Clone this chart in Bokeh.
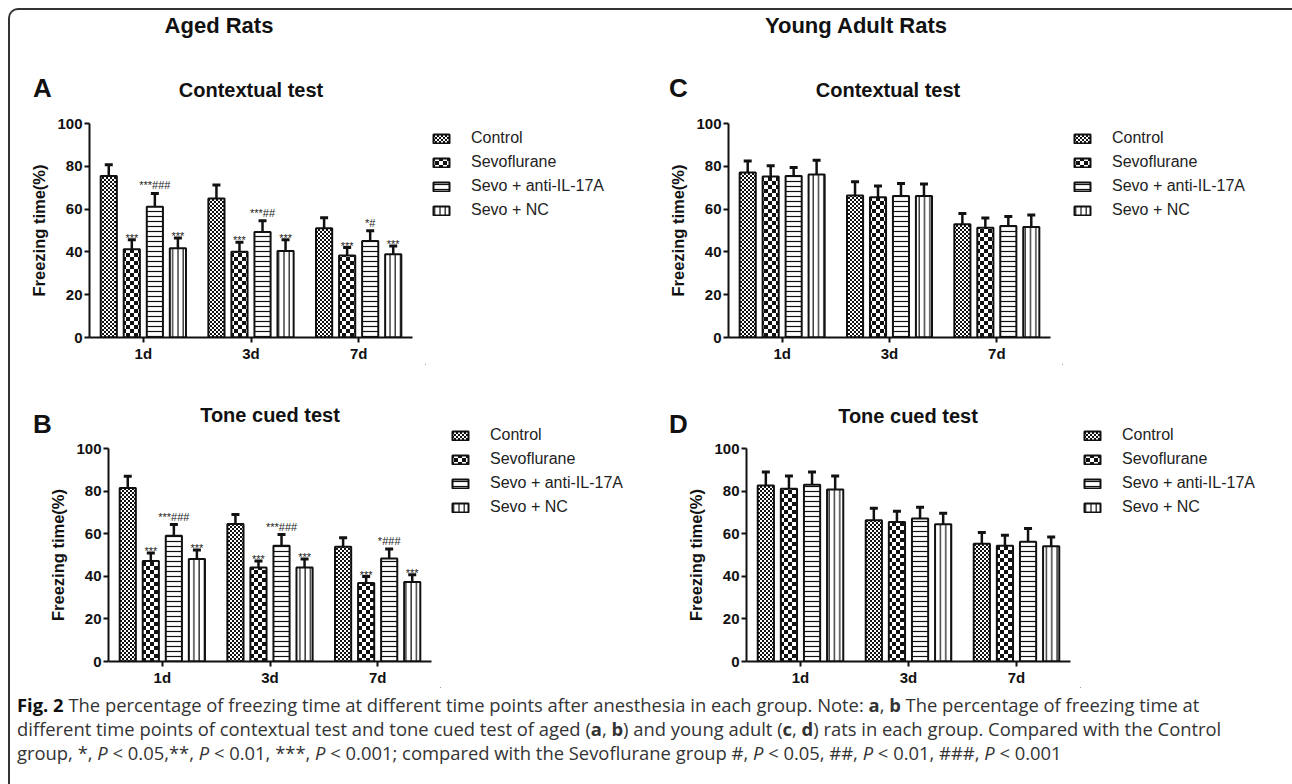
import base64
import struct
import zlib

from bokeh.plotting import figure
from bokeh.models import (ColumnDataSource, Range1d, FactorRange, Legend, LegendItem,
                          Div, ImageURLTexture)
from bokeh.layouts import column, row
from bokeh.transform import dodge
from bokeh.core.properties import value
from bokeh.embed import file_html
from bokeh.resources import INLINE

# ---------------- data ----------------
days = ["1d", "3d", "7d"]
groups = ["Control", "Sevoflurane", "Sevo + anti-IL-17A", "Sevo + NC"]
y_ticks = [0, 20, 40, 60, 80, 100]

# A: aged rats, contextual test
A_control = [75.5, 65.0, 51.0]
A_sevo = [41.2, 40.1, 38.3]
A_anti = [61.1, 49.3, 45.1]
A_nc = [41.7, 40.4, 38.9]
A_control_sem = [5.2, 6.3, 5.0]
A_sevo_sem = [4.5, 4.4, 3.7]
A_anti_sem = [6.2, 5.3, 4.8]
A_nc_sem = [4.8, 5.3, 3.9]
A_sevo_sig = ["***", "***", "***"]
A_anti_sig = ["***###", "***##", "*#"]
A_nc_sig = ["***", "***", "***"]

# B: aged rats, tone cued test
B_control = [81.5, 64.6, 53.9]
B_sevo = [47.2, 44.1, 36.9]
B_anti = [59.0, 54.3, 48.3]
B_nc = [48.1, 44.1, 37.3]
B_control_sem = [5.5, 4.4, 4.2]
B_sevo_sem = [3.7, 3.1, 3.0]
B_anti_sem = [5.3, 5.3, 4.5]
B_nc_sem = [4.2, 4.0, 3.4]
B_sevo_sig = ["***", "***", "***"]
B_anti_sig = ["***###", "***###", "*###"]
B_nc_sig = ["***", "***", "***"]

# C: young adult rats, contextual test
C_control = [77.1, 66.4, 52.9]
C_sevo = [75.2, 65.5, 51.3]
C_anti = [75.5, 66.1, 52.1]
C_nc = [76.2, 66.1, 51.6]
C_control_sem = [5.4, 6.4, 5.1]
C_sevo_sem = [5.0, 5.3, 4.5]
C_anti_sem = [3.9, 5.9, 4.5]
C_nc_sem = [6.6, 5.6, 5.6]

# D: young adult rats, tone cued test
D_control = [82.6, 66.3, 55.3]
D_sevo = [81.1, 65.5, 54.3]
D_anti = [83.0, 67.1, 56.2]
D_nc = [80.8, 64.4, 54.1]
D_control_sem = [6.4, 5.7, 5.3]
D_sevo_sem = [6.0, 5.0, 5.0]
D_anti_sem = [6.0, 5.3, 6.2]
D_nc_sem = [6.3, 5.2, 4.3]

# ---------------- styling ----------------
FONT = "Liberation Sans"
INK = "#111111"


def checker_png(cell):
    """Tiny checkerboard tile as a PNG data URL (used as a hatch texture)."""
    n = 2 * cell
    raw = b""
    for yy in range(n):
        line = bytearray([0])
        for xx in range(n):
            dark = ((xx // cell) + (yy // cell)) % 2 == 0
            line += bytes((17, 17, 17, 255)) if dark else bytes((255, 255, 255, 255))
        raw += bytes(line)

    def chunk(tag, data):
        return (struct.pack(">I", len(data)) + tag + data +
                struct.pack(">I", zlib.crc32(tag + data) & 0xffffffff))

    png = (b"\x89PNG\r\n\x1a\n" +
           chunk(b"IHDR", struct.pack(">IIBBBBB", n, n, 8, 6, 0, 0, 0)) +
           chunk(b"IDAT", zlib.compress(raw)) + chunk(b"IEND", b""))
    return "data:image/png;base64," + base64.b64encode(png).decode()


HATCH_EXTRA = {
    "checker_fine": ImageURLTexture(url=checker_png(2)),
    "checker_big": ImageURLTexture(url=checker_png(4)),
}

group_style = [
    dict(pattern="checker_fine", scale=4, weight=1),
    dict(pattern="checker_big", scale=8, weight=1),
    dict(pattern="horizontal_line", scale=5, weight=1.2),
    dict(pattern="vertical_line", scale=5.3, weight=1.2),
]
offsets = [-0.321, -0.107, 0.107, 0.321]
BAR_W = 0.15


def bar_style(i):
    st = group_style[i]
    return dict(fill_color="white", line_color=INK, line_width=2,
                hatch_pattern=f"pat{i}", hatch_color=INK,
                hatch_scale=st["scale"], hatch_weight=st["weight"],
                hatch_extra=HATCH_EXTRA)


def text_div(ox, oy, W, H, texts):
    """HTML block with bold texts placed by their baseline (page pixels)."""
    spans = []
    for (txt, x, base, size, align) in texts:
        top = base - 0.8465 * size - oy
        left = x - ox
        shift = "transform:translateX(-50%);" if align == "center" else ""
        spans.append(
            f'<span style="position:absolute;left:{left:.1f}px;top:{top:.1f}px;{shift}'
            f'font-family:\'{FONT}\',Arial,sans-serif;font-weight:bold;font-size:{size}px;'
            f'line-height:1;white-space:nowrap;color:{INK};">{txt}</span>')
    html = (f'<div style="position:relative;width:{W}px;height:{H}px;overflow:visible;">'
            + "".join(spans) + '</div>')
    return Div(text=html, width=W, height=H, margin=0)


def legend_fig(ox, oy, W, H, box_left, row1_center):
    p = figure(x_range=Range1d(ox, ox + W), y_range=Range1d(oy + H, oy),
               width=W, height=H, min_border=0, min_border_left=0, min_border_right=0,
               min_border_top=0, min_border_bottom=0,
               x_axis_location=None, y_axis_location=None,
               toolbar_location=None, output_backend="svg",
               outline_line_color=None, background_fill_color="white",
               border_fill_color="white")
    p.xgrid.visible = False
    p.ygrid.visible = False
    src = ColumnDataSource(dict(x=[ox - 50], top=[oy + H],
                                **{f"pat{i}": [group_style[i]["pattern"]] for i in range(4)}))
    items = []
    for i in range(4):
        r = p.vbar(x="x", top="top", bottom=oy + H, width=1, source=src, **bar_style(i))
        items.append(LegendItem(label=groups[i], renderers=[r]))
    lab_h, spacing = 20, 4
    leg_h = 4 * lab_h + 3 * spacing
    top = row1_center - lab_h / 2
    leg = Legend(items=items, location=(box_left - ox, (oy + H) - (top + leg_h)),
                 orientation="vertical", padding=0, margin=0, spacing=spacing,
                 glyph_width=20, glyph_height=11, label_height=lab_h,
                 label_standoff=20, label_text_font=FONT,
                 label_text_font_size="16px", label_text_color="#222222",
                 border_line_color=None, background_fill_alpha=0)
    p.add_layout(leg)
    return p


def plot_fig(geom, means, sems, sigs):
    ox, oy, W, H = geom["fig"]
    fl, fr, ft, fb = geom["frame"]
    p = figure(x_range=FactorRange(*days), y_range=Range1d(0, 100),
               width=W, height=H,
               min_border_left=fl - ox, min_border_right=ox + W - fr,
               min_border_top=ft - oy, min_border_bottom=oy + H - fb,
               toolbar_location=None, output_backend="svg",
               outline_line_color=None, background_fill_color="white",
               border_fill_color="white")
    p.xgrid.visible = False
    p.ygrid.visible = False

    data = dict(day=days)
    for i in range(4):
        data[f"m{i}"] = means[i]
        data[f"t{i}"] = [m + s for m, s in zip(means[i], sems[i])]
        data[f"pat{i}"] = [group_style[i]["pattern"]] * len(days)
    for i, s in sigs.items():
        data[f"s{i}"] = s
        data[f"o{i}"] = [-8 if "#" in t else -2 for t in s]
    src = ColumnDataSource(data)

    for i in range(4):
        xx = dodge("day", offsets[i], range=p.x_range)
        p.vbar(x=xx, top=f"m{i}", width=BAR_W, bottom=0, source=src, **bar_style(i))
        p.segment(x0=xx, y0=f"m{i}", x1=xx, y1=f"t{i}", source=src,
                  line_color=INK, line_width=2.5)
        p.rect(x=xx, y=f"t{i}", width=8, height=3, width_units="screen",
               height_units="screen", source=src, fill_color=INK, line_color=None)
        if i in sigs:
            p.text(x=xx, y=f"t{i}", text=f"s{i}", source=src, y_offset=f"o{i}",
                   text_font=value(FONT), text_font_size="11px",
                   text_align="center", text_baseline="alphabetic",
                   text_color="#222222")

    for ax in (p.xaxis[0], p.yaxis[0]):
        ax.axis_line_width = 2
        ax.axis_line_color = INK
        ax.major_tick_line_width = 2
        ax.major_tick_line_color = INK
        ax.major_tick_out = 5
        ax.major_tick_in = 0
        ax.minor_tick_out = 0
        ax.minor_tick_in = 0
        ax.major_label_text_font = FONT
        ax.major_label_text_font_style = "bold"
        ax.major_label_text_font_size = "15px"
        ax.major_label_text_color = INK
        ax.major_label_standoff = 2
    p.yaxis.ticker = y_ticks
    p.yaxis.axis_label = "Freezing time(%)"
    p.yaxis.axis_label_text_font = FONT
    p.yaxis.axis_label_text_font_style = "bold"
    p.yaxis.axis_label_text_font_size = "16.5px"
    p.yaxis.axis_label_text_color = INK
    p.yaxis.axis_label_standoff = 6
    return p


# ---------------- panels (page-pixel geometry) ----------------
tA = text_div(10, 10, 415, 103, [("Aged Rats", 219, 34, 22, "center"),
                                  ("A", 33, 97, 26, "left"),
                                  ("Contextual test", 251, 97, 20, "center")])
pA = plot_fig(dict(fig=(10, 113, 415, 252), frame=(89, 412, 123, 337)),
              [A_control, A_sevo, A_anti, A_nc],
              [A_control_sem, A_sevo_sem, A_anti_sem, A_nc_sem],
              {1: A_sevo_sig, 2: A_anti_sig, 3: A_nc_sig})
lA = legend_fig(425, 10, 215, 355, 431, 138)

tB = text_div(10, 365, 430, 73, [("B", 33, 433, 26, "left"),
                                  ("Tone cued test", 270, 422, 20, "center")])
pB = plot_fig(dict(fig=(10, 438, 430, 250), frame=(108, 431, 448, 663)),
              [B_control, B_sevo, B_anti, B_nc],
              [B_control_sem, B_sevo_sem, B_anti_sem, B_nc_sem],
              {1: B_sevo_sig, 2: B_anti_sig, 3: B_nc_sig})
lB = legend_fig(440, 365, 200, 323, 450, 435)

tC = text_div(640, 10, 422, 103, [("Young Adult Rats", 856, 34, 22, "center"),
                                   ("C", 669, 97, 26, "left"),
                                   ("Contextual test", 888, 97, 20, "center")])
pC = plot_fig(dict(fig=(640, 113, 422, 252), frame=(728, 1050, 123, 337)),
              [C_control, C_sevo, C_anti, C_nc],
              [C_control_sem, C_sevo_sem, C_anti_sem, C_nc_sem], {})
lC = legend_fig(1062, 10, 222, 355, 1072, 138)

tD = text_div(640, 365, 440, 73, [("D", 669, 433, 26, "left"),
                                   ("Tone cued test", 908, 423, 20, "center")])
pD = plot_fig(dict(fig=(640, 438, 440, 250), frame=(746, 1070, 448, 663)),
              [D_control, D_sevo, D_anti, D_nc],
              [D_control_sem, D_sevo_sem, D_anti_sem, D_nc_sem], {})
lD = legend_fig(1080, 365, 204, 323, 1082, 435)

caption_html = (
    '<div style="font-family:\'Open Sans\',\'Liberation Sans\',sans-serif;'
    'font-size:18.4px;line-height:24px;color:#333;white-space:nowrap;padding:0 0 0 2px;">'
    '<b style="color:#111">Fig. 2</b> The percentage of freezing time at different time points after anesthesia '
    'in each group. Note: <b>a</b>, <b>b</b> The percentage of freezing time at<br>'
    'different time points of contextual test and tone cued test of aged (<b>a</b>, <b>b</b>) and young adult '
    '(<b>c</b>, <b>d</b>) rats in each group. Compared with the Control<br>'
    'group, *, <i>P</i> &lt; 0.05,**, <i>P</i> &lt; 0.01, ***, <i>P</i> &lt; 0.001; compared with the '
    'Sevoflurane group #, <i>P</i> &lt; 0.05, ##, <i>P</i> &lt; 0.01, ###, <i>P</i> &lt; 0.001'
    '</div>')
caption = Div(text=caption_html, width=1274, height=86)

panelA = row(column(tA, pA), lA)
panelB = row(column(tB, pB), lB)
panelC = row(column(tC, pC), lC)
panelD = row(column(tD, pD), lD)

root = column(row(panelA, panelC), row(panelB, panelD), caption,
              styles={"border-left": "2px solid #333", "border-top": "2px solid #333",
                      "border-top-left-radius": "10px",
                      "margin-left": "8px", "margin-top": "8px"})

open("out.html", "w").write(file_html(root, INLINE))
